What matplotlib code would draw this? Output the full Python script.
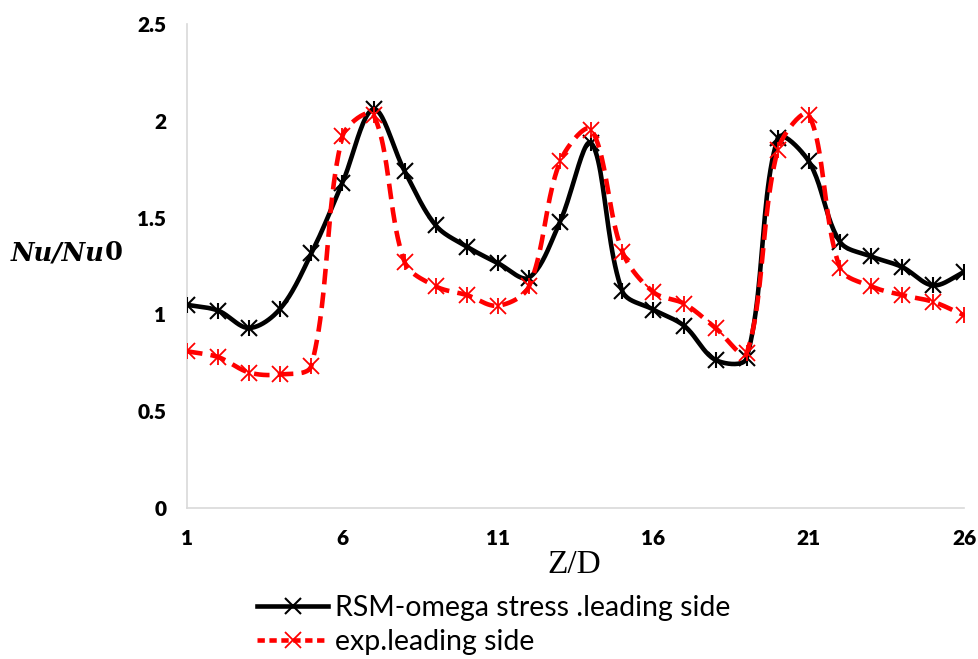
import numpy as np
import matplotlib
matplotlib.use("Agg")
import matplotlib.pyplot as plt
from matplotlib.lines import Line2D

z_d = list(range(1, 27))
rsm = [1.05, 1.02, 0.93, 1.03, 1.315, 1.68, 2.06, 1.74, 1.46, 1.35,
       1.265, 1.19, 1.48, 1.885, 1.12, 1.025, 0.94, 0.765, 0.775, 1.91,
       1.79, 1.375, 1.30, 1.245, 1.15, 1.22]
exp = [0.81, 0.78, 0.70, 0.69, 0.735, 1.92, 2.03, 1.27, 1.145, 1.10,
       1.045, 1.145, 1.79, 1.955, 1.325, 1.115, 1.055, 0.93, 0.80, 1.85,
       2.03, 1.24, 1.145, 1.10, 1.065, 0.995]
x_ticks = [1, 6, 11, 16, 21, 26]
y_ticks = [0, 0.5, 1, 1.5, 2, 2.5]
y_tick_labels = ["0", "0.5", "1", "1.5", "2", "2.5"]

FONT = ['Lato', 'DejaVu Sans']

fig = plt.figure(figsize=(9.79, 6.59), dpi=100)
ax = fig.add_axes([0.191, 0.229, 0.794, 0.7346])
ax.set_xlim(1, 26)
ax.set_ylim(0, 2.5)


def smooth(xs, ys, n=24):
    """Excel-like smoothed line through the data points (Bezier, chord-length scaled tangents)."""
    pts = ax.transData.transform(np.column_stack([xs, ys]))
    out = []
    m = len(pts)
    for i in range(m - 1):
        p0 = pts[i - 1] if i > 0 else pts[i]
        p1 = pts[i]
        p2 = pts[i + 1]
        p3 = pts[i + 2] if i + 2 < m else pts[i + 1]
        d01 = np.hypot(*(p1 - p0))
        d12 = np.hypot(*(p2 - p1))
        d23 = np.hypot(*(p3 - p2))
        t1 = (p2 - p0) * (d12 / (d01 + d12) if d01 + d12 > 0 else 0) / 3.0
        t2 = (p3 - p1) * (d12 / (d12 + d23) if d12 + d23 > 0 else 0) / 3.0
        if i == 0:
            t1 = (p2 - p1) / 3.0
        if i == m - 2:
            t2 = (p2 - p1) / 3.0
        c1 = p1 + t1
        c2 = p2 - t2
        t = np.linspace(0, 1, n, endpoint=(i == m - 2))[:, None]
        b = ((1 - t) ** 3) * p1 + 3 * ((1 - t) ** 2) * t * c1 + 3 * (1 - t) * t ** 2 * c2 + t ** 3 * p2
        out.append(b)
    out = ax.transData.inverted().transform(np.vstack(out))
    return out[:, 0], out[:, 1]


sx, sy = smooth(z_d, rsm)
ax.plot(sx, sy, color='black', lw=3.3, solid_capstyle='round', zorder=3)
ax.plot(z_d, rsm, ls='none', marker='x', ms=12, mew=1.5, color='black', zorder=4)
ax.plot(z_d, rsm, ls='none', marker='|', ms=12, mew=1.5, color='black', zorder=4)

ex, ey = smooth(z_d, exp)
ax.plot(ex, ey, color='#ff0000', lw=3.3, dashes=(3.4, 1.8), zorder=5)
ax.plot(z_d, exp, ls='none', marker='x', ms=11, mew=1.3, color='#ff0000', zorder=6)
ax.plot(z_d, exp, ls='none', marker='|', ms=11, mew=1.3, color='#ff0000', zorder=6)

ax.set_xticks(x_ticks)
ax.set_yticks(y_ticks)
ax.set_yticklabels(y_tick_labels)
ax.tick_params(length=0)
ax.tick_params(axis='y', pad=15)
ax.tick_params(axis='x', pad=15)
for lab in ax.get_xticklabels() + ax.get_yticklabels():
    lab.set_fontfamily(FONT)
    lab.set_fontweight('heavy')
    lab.set_fontsize(15)
for s in ['top', 'right']:
    ax.spines[s].set_visible(False)
for s in ['left', 'bottom']:
    ax.spines[s].set_color('#d9d9d9')
    ax.spines[s].set_linewidth(1.2)

fig.text(574 / 979, 1 - 565 / 659, 'Z/D', family=['Liberation Serif', 'DejaVu Serif'],
         fontsize=24, ha='center', va='center')
t1 = fig.text(11 / 979, 1 - 253 / 659, 'Nu/Nu', family=['DejaVu Serif'], style='italic',
              weight='bold', fontsize=18.5, ha='left', va='center')
fig.canvas.draw()
bb = t1.get_window_extent()
fig.text(bb.x1 / 979, 1 - 253 / 659, '0', family=['DejaVu Serif'],
         weight='bold', fontsize=18.5, ha='left', va='center')

h1 = Line2D([], [], color='black', lw=3.3, marker='x', ms=12, mew=1.5)
h2 = Line2D([], [], color='#ff0000', lw=3.3, dashes=(1.6, 1.0), marker='x', ms=11, mew=1.3)
leg = fig.legend([h1, h2], ['RSM-omega stress .leading side', 'exp.leading side'],
                 loc='center left', bbox_to_anchor=(257 / 979, 1 - 625 / 659),
                 frameon=False, handlelength=2.5, handletextpad=0.25, labelspacing=0.3,
                 borderaxespad=0, borderpad=0,
                 prop={'family': FONT, 'size': 20.5})

fig.savefig('out.png', dpi=100)
